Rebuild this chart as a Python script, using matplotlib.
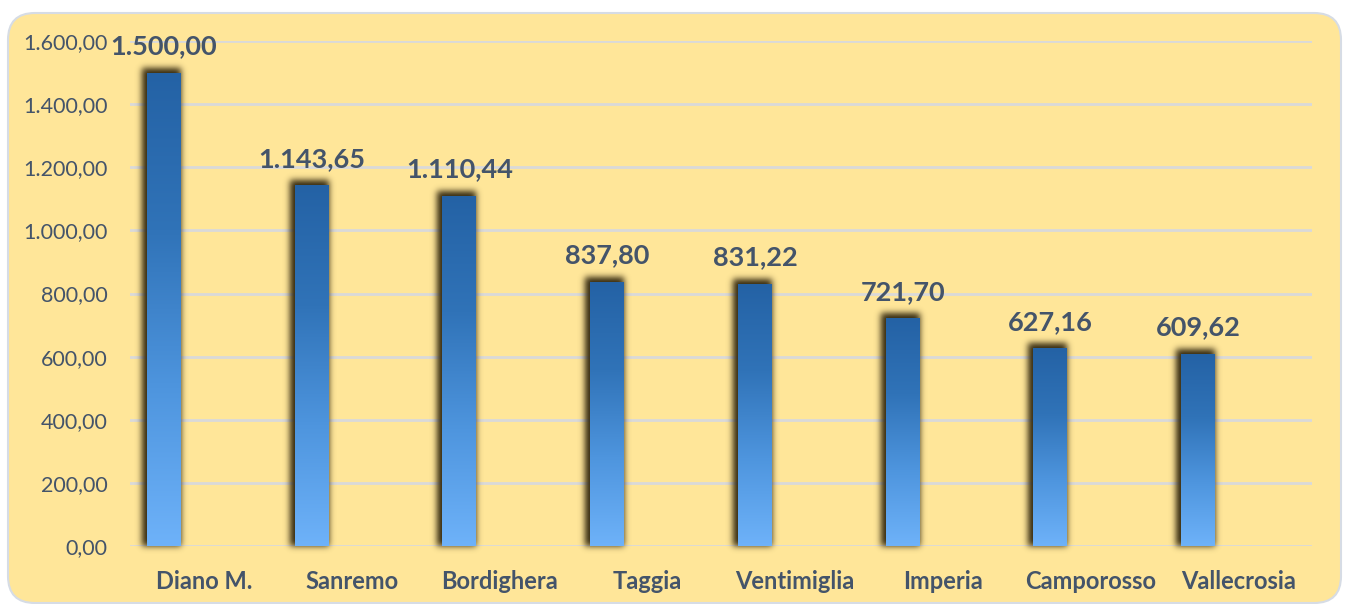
import numpy as np
import matplotlib
matplotlib.use("Agg")
import matplotlib.pyplot as plt
from matplotlib.patches import FancyBboxPatch
from matplotlib.colors import LinearSegmentedColormap

# Data: cost per municipality
comuni = ["Diano M.", "Sanremo", "Bordighera", "Taggia",
          "Ventimiglia", "Imperia", "Camporosso", "Vallecrosia"]
valori = [1500.00, 1143.65, 1110.44, 837.80, 831.22, 721.70, 627.16, 609.62]
y_ticks = [0, 200, 400, 600, 800, 1000, 1200, 1400, 1600]

TEXT = "#44546A"
GRID = "#D9D9D9"
BG = "#FFE699"
FONT = "Lato"

W, H, DPI = 1345, 604, 100


def fmt_it(v):
    s = f"{v:,.2f}"
    return s.replace(",", "X").replace(".", ",").replace("X", ".")


fig = plt.figure(figsize=(W / DPI, H / DPI), dpi=DPI)
fig.patch.set_facecolor("white")

# Rounded chart-area panel
panel = FancyBboxPatch((8 / W, 1 / H), (1333 / W), (590 / H),
                       boxstyle="round,pad=0,rounding_size=0.02",
                       transform=fig.transFigure, facecolor=BG,
                       edgecolor="#D6DCE5", linewidth=1.5, zorder=-5,
                       mutation_aspect=W / H)
fig.patches.append(panel)

ax = fig.add_axes([130 / W, 58 / H, 1182 / W, 505 / H])
ax.set_facecolor("none")
ax.set_xlim(-0.5, len(comuni) - 0.5)
ax.set_ylim(0, 1600)

for s in ax.spines.values():
    s.set_visible(False)
ax.set_yticks(y_ticks)
ax.set_yticklabels([fmt_it(t) for t in y_ticks], fontsize=15.5,
                   color=TEXT, family=FONT)
ax.yaxis.grid(True, color=GRID, linewidth=2, zorder=0)
ax.set_axisbelow(True)
ax.tick_params(axis="y", length=0, pad=16)
ax.set_xticks(range(len(comuni)))
ax.set_xticklabels(comuni, fontsize=17, fontweight="bold", color=TEXT,
                   family=FONT)
ax.tick_params(axis="x", length=0, pad=17)

x = np.arange(len(comuni)) - 0.27
width = 0.23
bars = ax.bar(x, valori, width=width, color="#3A7FC8", zorder=3,
              linewidth=0)

# Soft drop shadow behind bars, blurred in pixel space
fig.canvas.draw()
bb = ax.bbox
pw, ph = int(round(bb.width)), int(round(bb.height))
margin = 20
mask = np.zeros((ph + 2 * margin, pw + 2 * margin))
for b in bars:
    (x0, y0), (x1, y1) = ax.transData.transform(
        [(b.get_x(), 0), (b.get_x() + b.get_width(), b.get_height())])
    c0 = int(round(x0 - bb.x0)) + margin - 5
    c1 = int(round(x1 - bb.x0)) + margin
    r_top = int(round(bb.y1 - y1)) + margin - 5
    r_bot = int(round(bb.y1 - y0)) + margin
    mask[max(r_top, 0):r_bot, max(c0, 0):c1] = 1.0

sigma = 3.2
k = np.arange(-11, 12)
kern = np.exp(-k ** 2 / (2 * sigma ** 2))
kern /= kern.sum()
blur = np.apply_along_axis(lambda r: np.convolve(r, kern, mode="same"), 1, mask)
blur = np.apply_along_axis(lambda c: np.convolve(c, kern, mode="same"), 0, blur)

shadow = np.zeros(blur.shape + (4,))
shadow[..., 0] = 0.20
shadow[..., 1] = 0.16
shadow[..., 2] = 0.06
shadow[..., 3] = np.clip(blur * 1.0, 0, 1)

dx = (ax.get_xlim()[1] - ax.get_xlim()[0]) / pw
dy = (ax.get_ylim()[1] - ax.get_ylim()[0]) / ph
ext = (ax.get_xlim()[0] - margin * dx, ax.get_xlim()[1] + margin * dx,
       ax.get_ylim()[0] - margin * dy, ax.get_ylim()[1] + margin * dy)
ax.imshow(shadow, extent=ext, aspect="auto", zorder=2,
          interpolation="bilinear", clip_on=False)

# Vertical gradient fill on each bar
cmap = LinearSegmentedColormap.from_list(
    "barfill", ["#6EB2F9", "#4E95DE", "#3073B8", "#2462A5"])
grad = np.linspace(0, 1, 256).reshape(-1, 1)
for b in bars:
    h = b.get_height()
    im = ax.imshow(grad, cmap=cmap, origin="lower", aspect="auto",
                   extent=(b.get_x(), b.get_x() + b.get_width(), 0, h),
                   zorder=4)
    im.set_clip_path(b)

ax.set_xlim(-0.5, len(comuni) - 0.5)
ax.set_ylim(0, 1600)

# Value labels
for b, v in zip(bars, valori):
    ax.annotate(fmt_it(v), (b.get_x() + b.get_width() / 2, v),
                xytext=(0, 13), textcoords="offset points",
                ha="center", va="baseline", fontsize=19.5,
                fontweight="bold", color=TEXT, family=FONT, zorder=5,
                annotation_clip=False)

fig.savefig("out.png", dpi=DPI, facecolor=fig.get_facecolor())
